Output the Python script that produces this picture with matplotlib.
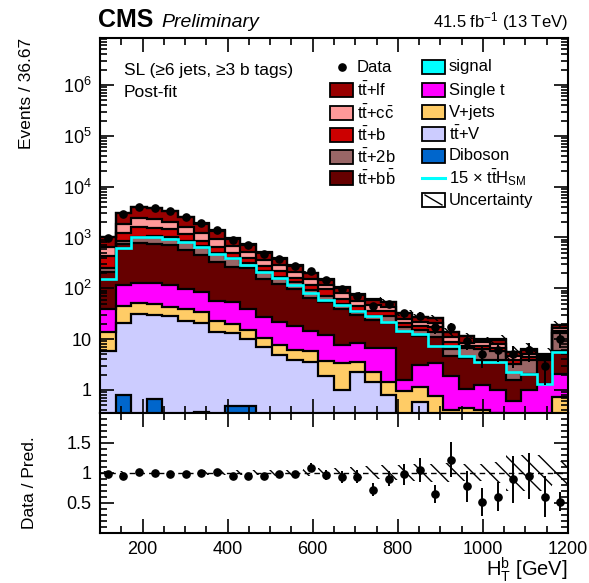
import numpy as np
import matplotlib
matplotlib.use("Agg")
import matplotlib.pyplot as plt
from matplotlib.patches import Rectangle
from matplotlib.lines import Line2D
from matplotlib.ticker import MultipleLocator, FixedLocator, FuncFormatter, LogLocator, NullFormatter

plt.rcParams["font.family"] = ["Liberation Sans", "DejaVu Sans"]
plt.rcParams["mathtext.fontset"] = "custom"
plt.rcParams["mathtext.rm"] = "Liberation Sans"
plt.rcParams["mathtext.it"] = "Liberation Sans:italic"
plt.rcParams["mathtext.bf"] = "Liberation Sans:bold"
plt.rcParams["hatch.linewidth"] = 1.0

# ---- binning: 30 bins of 36.67 GeV in H_T^b ----
edges = np.linspace(100.0, 1200.0, 31)
centers = 0.5 * (edges[:-1] + edges[1:])

# ---- post-fit yields per process (events / bin) ----
diboson = [0, 0.78, 0, 0.67, 0, 0, 0.37, 0, 0.49, 0.49,
           0, 0, 0, 0, 0, 0, 0, 0, 0, 0,
           0, 0, 0, 0, 0, 0, 0, 0, 0, 0]
tt_v = [5.8, 20.4, 31, 29.5, 28.8, 22.9, 20.8, 13.6, 12.9, 9.7,
        6.9, 4.9, 3.9, 3.6, 1.9, 1.0, 2.3, 1.45, 0.78, 0.2,
        0.58, 0, 0, 0, 0, 0, 0, 0, 0, 0]
v_jets = [8.0, 24.5, 20.6, 19.2, 13.6, 16.3, 12.4, 8.8, 6.3, 4.7,
          3.7, 2.6, 2.3, 2.15, 1.8, 2.4, 1.3, 0.85, 0.67, 0.74,
          0.57, 0.75, 0.4, 0.45, 0.4, 0.35, 0, 0, 0, 0.72]
single_t = [25.4, 69, 78, 75, 73, 59, 51, 35, 35, 24.3,
            16.1, 14.4, 12, 8.75, 8.1, 4.4, 4.8, 4.4, 5.25, 0.66,
            1.95, 2.65, 1.5, 0.61, 0.84, 0.63, 0.6, 1.0, 1.3, 1.38]
tt_bb = [173, 644, 652, 623, 609, 477, 372, 279, 212, 208,
         129, 102, 80, 49.5, 43, 31, 21.5, 17.3, 14.3, 11.9,
         8.4, 7.6, 2.7, 3.24, 2.66, 2.9, 1.0, 1.1, 2.6, 3.65]
tt_2b = [35, 112, 218, 316, 291, 296, 214, 158, 125, 64,
         63, 45, 35.5, 27, 17, 10, 4, 5, 8, 3.5,
         3.5, 3, 1.9, 2.4, 2.6, 1.9, 1.7, 1.8, 0.1, 7.25]
tt_b = [176, 369, 635, 497, 430, 277, 200, 157, 102, 81,
        61, 50, 29, 24, 23.5, 13, 11, 7, 7, 3.5,
        3, 3.5, 2.1, 0.5, 0.7, 1.0, 0.6, 0.6, 0.25, 1.5]
tt_cc = [217, 580, 765, 730, 582, 462, 369, 261, 177, 125,
         83, 69, 43, 34, 22.5, 19, 12, 10, 6, 4.5,
         4, 3.5, 2.4, 1.3, 1.4, 1.2, 0.7, 0.7, 0.3, 2.0]
tt_lf = [374, 1200, 1560, 1470, 1273, 920, 630, 428, 279, 203,
         137, 97, 69, 48, 30, 20, 18, 14, 11, 7,
         5, 5, 2.5, 2.9, 1.0, 1.8, 0.9, 1.0, 0.4, 2.5]
signal = [10.1, 41.4, 67.7, 66.7, 62.7, 54.6, 42.7, 31.4, 26.1, 19.2,
          14.1, 10.4, 7.67, 5.47, 4.0, 3.07, 2.4, 1.87, 1.47, 0.97,
          0.83, 0.48, 0.48, 0.31, 0.24, 0.24, 0.15, 0.14, 0.087, 0.37]
signal_scale = 15

data = [994, 2900, 4040, 3800, 3300, 2500, 1900, 1380, 912, 700,
        480, 385, 275, 219, 145, 96, 72, 44, 49, 32,
        29, 17, 17, 9, 5, 6, 5, 6, 3, 10]

# relative total post-fit uncertainty per bin
rel_unc = [0.03, 0.03, 0.03, 0.03, 0.03, 0.03, 0.035, 0.035, 0.04, 0.04,
           0.045, 0.05, 0.05, 0.06, 0.07, 0.08, 0.09, 0.11, 0.12, 0.13,
           0.14, 0.15, 0.16, 0.14, 0.14, 0.18, 0.30, 0.30, 0.30, 0.20]

stack = [
    ("Diboson", diboson, "#0066CC"),
    ("tt+V", tt_v, "#CCCCFF"),
    ("V+jets", v_jets, "#FFCC66"),
    ("Single t", single_t, "#FF00FF"),
    ("tt+bb", tt_bb, "#660000"),
    ("tt+2b", tt_2b, "#996666"),
    ("tt+b", tt_b, "#CC0000"),
    ("tt+cc", tt_cc, "#FF9999"),
    ("tt+lf", tt_lf, "#990000"),
    ("signal", signal, "#00FFFF"),
]

W, H = 589, 583
fig = plt.figure(figsize=(W / 100, H / 100), dpi=100)


def fx(px):
    return px / W


def fy(py):
    return 1 - py / H


ax = fig.add_axes([fx(100), fy(412.5), fx(568) - fx(100), fy(37.5) - fy(412.5)])
rax = fig.add_axes([fx(100), fy(532.5), fx(568) - fx(100), fy(412.5) - fy(532.5)])

floor = 1e-3
bottom = np.zeros(len(centers))
tops = []
for name, vals, col in stack:
    top = bottom + np.asarray(vals, dtype=float)
    ax.stairs(np.maximum(top, floor), edges, baseline=np.maximum(bottom, floor),
              fill=True, facecolor=col, edgecolor="none", lw=0, zorder=1)
    tops.append(top)
    bottom = top
for top in tops:
    ax.stairs(np.maximum(top, floor), edges, baseline=None, color="black", lw=1.6, zorder=2)

pred = tops[-1]
unc = np.asarray(rel_unc)

# uncertainty band on the total prediction
ax.stairs(pred * (1 + unc), edges, baseline=pred * (1 - unc), fill=True,
          facecolor="none", edgecolor="black", hatch="\\\\", lw=0, zorder=3)

# scaled ttH line
ax.stairs(signal_scale * np.asarray(signal), edges, baseline=None,
          color="#00FFFF", lw=1.9, zorder=4)

data = np.asarray(data, dtype=float)
derr = np.sqrt(data)
ax.errorbar(centers, data, yerr=derr, fmt="o", color="black", ms=5.2,
            elinewidth=1.4, capsize=0, zorder=5)

ax.set_yscale("log")
ax.set_xlim(100, 1200)
ax.set_ylim(0.36, 8.6e6)


def log_fmt(v, pos):
    e = int(round(np.log10(v)))
    if e == 0:
        return "1"
    if e == 1:
        return "10"
    return r"$10^{%d}$" % e


ax.yaxis.set_major_locator(FixedLocator([1, 10, 1e2, 1e3, 1e4, 1e5, 1e6]))
ax.yaxis.set_major_formatter(FuncFormatter(log_fmt))
ax.yaxis.set_minor_locator(LogLocator(base=10, subs=np.arange(2, 10), numticks=20))
ax.yaxis.set_minor_formatter(NullFormatter())
ax.xaxis.set_major_locator(MultipleLocator(200))
ax.xaxis.set_minor_locator(MultipleLocator(50))
ax.tick_params(axis="x", labelbottom=False)

# ratio panel
ratio = data / pred
rerr = derr / pred
rax.stairs(1 + unc, edges, baseline=1 - unc, fill=True, facecolor="none",
           edgecolor="black", hatch="\\\\", lw=0, zorder=2)
rax.axhline(1.0, color="black", ls=(0, (4, 3)), lw=1.0, zorder=3)
rax.errorbar(centers, ratio, yerr=rerr, fmt="o", color="black", ms=5.2,
             elinewidth=1.4, capsize=0, zorder=5)
rax.set_xlim(100, 1200)
rax.set_ylim(0, 2)
rax.yaxis.set_major_locator(FixedLocator([0.5, 1.0, 1.5]))
rax.yaxis.set_major_formatter(FuncFormatter(lambda v, p: "%g" % v))
rax.yaxis.set_minor_locator(MultipleLocator(0.1))
rax.xaxis.set_major_locator(MultipleLocator(200))
rax.xaxis.set_minor_locator(MultipleLocator(50))

for a in (ax, rax):
    a.tick_params(which="both", direction="in", top=True, right=True, width=1.2,
                  labelsize=13, pad=6)
    a.tick_params(which="major", length=10)
    a.tick_params(which="minor", length=5)
    for s in a.spines.values():
        s.set_linewidth(1.5)
        s.set_zorder(10)

# axis titles
fig.text(fx(27), fy(38), "Events / 36.67", rotation=90, ha="center", va="top", fontsize=12.5)
fig.text(fx(30), fy(483), "Data / Pred.", rotation=90, ha="center", va="center", fontsize=12.5)
fig.text(fx(568), fy(576), r"$\mathrm{H_{T}^{b}}$ [GeV]", ha="right", va="baseline", fontsize=14.5)

# header
fig.text(fx(98), fy(27), "CMS", fontsize=18, fontweight="bold", va="baseline")
fig.text(fx(161), fy(27), "Preliminary", fontsize=14, fontstyle="italic", va="baseline")
fig.text(fx(568), fy(27), r"41.5 fb$^{\mathregular{-1}}$ (13 TeV)", fontsize=12,
         ha="right", va="baseline")

# category text
fig.text(fx(124), fy(75), "SL (\u22656 jets, \u22653 b tags)", fontsize=12.5, va="baseline")
fig.text(fx(124), fy(97), "Post-fit", fontsize=12.5, va="baseline")

# legend
tt = r"$\mathrm{t\bar{t}}$"
colours = {name: col for name, _, col in stack}
left = [
    ("Data", None, 67),
    (tt + "+lf", colours["tt+lf"], 90),
    (tt + r"+$\mathrm{c\bar{c}}$", colours["tt+cc"], 113),
    (tt + "+b", colours["tt+b"], 135),
    (tt + "+2b", colours["tt+2b"], 157),
    (tt + r"+$\mathrm{b\bar{b}}$", colours["tt+bb"], 178),
]
right = [
    ("signal", colours["signal"], 67),
    ("Single t", colours["Single t"], 90),
    ("V+jets", colours["V+jets"], 112),
    (tt + "+V", colours["tt+V"], 134),
    ("Diboson", colours["Diboson"], 156),
    (r"15 $\times$ $\mathrm{t\bar{t}H_{SM}}$", "line", 178),
    ("Uncertainty", "hatch", 200),
]
bw, bh = 23, 14


def legend_entry(x0, label, kind, yc, tx):
    if kind is None:
        fig.add_artist(Line2D([fx(x0 + bw / 2)], [fy(yc)], marker="o", ms=5.2,
                              color="black", lw=0, transform=fig.transFigure))
    elif kind == "line":
        fig.add_artist(Line2D([fx(x0), fx(x0 + bw)], [fy(yc), fy(yc)], color="#00FFFF",
                              lw=2.2, transform=fig.transFigure))
    elif kind == "hatch":
        fig.add_artist(Rectangle((fx(x0), fy(yc + bh / 2)), fx(bw), bh / H,
                                 facecolor="white", edgecolor="black", lw=1.3,
                                 transform=fig.transFigure))
        fig.add_artist(Line2D([fx(x0 + 3), fx(x0 + bw - 3)], [fy(yc - bh / 2 + 2), fy(yc + bh / 2 - 2)],
                              color="black", lw=1.0, transform=fig.transFigure))
    else:
        fig.add_artist(Rectangle((fx(x0), fy(yc + bh / 2)), fx(bw), bh / H,
                                 facecolor=kind, edgecolor="black", lw=1.3,
                                 transform=fig.transFigure))
    fig.text(fx(tx), fy(yc), label, fontsize=12, va="center", ha="left")


for label, kind, yc in left:
    legend_entry(330, label, kind, yc, 357)
for label, kind, yc in right:
    legend_entry(422, label, kind, yc, 449)

fig.savefig("out.png", dpi=100)
